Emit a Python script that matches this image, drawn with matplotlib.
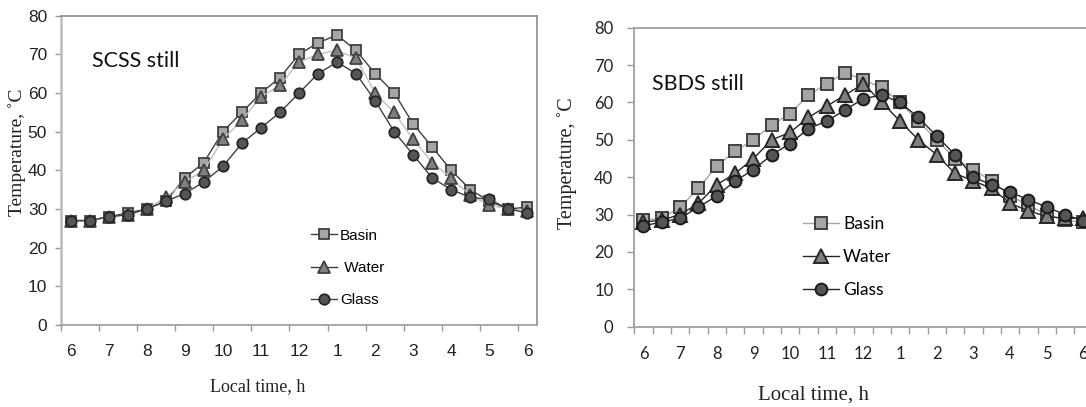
import matplotlib
matplotlib.use("Agg")
import matplotlib.pyplot as plt
from matplotlib import font_manager
from matplotlib.lines import Line2D

# ---------------- data ----------------
hour_labels = ["6", "7", "8", "9", "10", "11", "12", "1", "2", "3", "4", "5", "6"]
n_points = 25  # half-hourly readings 6:00 .. 18:00

scss_basin = [27, 27, 28, 29, 30, 32, 38, 42, 50, 55, 60, 64, 70, 73, 75, 71, 65, 60, 52, 46, 40, 35, 32, 30, 30.5]
scss_water = [27, 27, 28, 28.5, 30, 33, 37, 40, 48, 53, 59, 62, 68, 70, 71, 69, 60, 55, 48, 42, 38, 33.5, 31, 30, 29.5]
scss_glass = [27, 27, 28, 28.5, 30, 32, 34, 37, 41, 47, 51, 55, 60, 65, 68, 65, 58, 50, 44, 38, 35, 33, 32.5, 30, 29]

sbds_basin = [28.5, 29, 32, 37, 43, 47, 50, 54, 57, 62, 65, 68, 66, 64, 60, 55, 50, 45, 42, 39, 35, 32.5, 30, 28.5, 28]
sbds_water = [28, 28.5, 30, 33, 38, 41, 45, 50, 52, 56, 59, 62, 65, 60, 55, 50, 46, 41, 39, 37, 33, 31, 29.5, 29, 29]
sbds_glass = [27, 28, 29, 32, 35, 39, 42, 46, 49, 53, 55, 58, 61, 62, 60, 56, 51, 46, 40, 38, 36, 34, 32, 30, 28.3]

series_names = ["Basin", " Water", "Glass"]

# ---------------- fonts ----------------
avail = {f.name for f in font_manager.fontManager.ttflist}
narrow = "Liberation Sans Narrow" if "Liberation Sans Narrow" in avail else "Liberation Sans"
serif = ["Liberation Serif", "DejaVu Serif"]
calib = ["Lato", "DejaVu Sans"]

W, H = 1086, 407
fig = plt.figure(figsize=(W / 100, H / 100), dpi=100)


def fx(px):
    return px / W


def fy(py):
    return 1 - py / H


x = list(range(n_points))

# ---------------- left chart (SCSS) ----------------
axL = fig.add_axes([fx(61), fy(325), fx(537) - fx(61), fy(15.7) - fy(325)])
axL.plot(x, scss_basin, color="#404040", lw=1.0, marker="s", ms=7.5, mfc="#A6A6A6", mec="#404040", mew=1.3, zorder=3)
axL.plot(x, scss_water, color="#BFBFBF", lw=1.0, marker="^", ms=8.5, mfc="#808080", mec="#404040", mew=1.3, zorder=4)
axL.plot(x, scss_glass, color="#404040", lw=1.0, marker="o", ms=7.5, mfc="#555555", mec="#262626", mew=1.3, zorder=5)
axL.set_xlim(-0.5, n_points - 0.5)
axL.set_ylim(0, 80)
axL.set_yticks(range(0, 81, 10))
axL.set_xticks(range(0, n_points, 2))
axL.set_xticklabels(hour_labels)
axL.set_xticks([i - 0.5 for i in range(0, n_points, 2)], minor=True)
axL.tick_params(axis="x", which="major", length=0, pad=14)
axL.tick_params(axis="x", which="minor", length=4, width=1, color="#999999", direction="out")
axL.tick_params(axis="y", length=4, width=1, color="#999999", direction="out", pad=6)
for lab in axL.get_xticklabels() + axL.get_yticklabels():
    lab.set_family(narrow)
    lab.set_fontsize(12.5)
    lab.set_color("#222222")
for s in ["top", "right"]:
    axL.spines[s].set_color("#8C8C8C")
    axL.spines[s].set_linewidth(1.2)
axL.spines["left"].set_color("#BBBBBB")
axL.spines["left"].set_linewidth(1.8)
axL.spines["bottom"].set_color("#999999")
axL.spines["bottom"].set_linewidth(1.2)

fig.text(fx(91.7), fy(66.7), "SCSS still", family=calib, fontsize=15.5, ha="left", va="baseline", color="#111111")
fig.text(fx(17), fy(152), "Temperature, ˚C", family=serif, fontsize=14, rotation=90, ha="center", va="center", color="#222222")
fig.text(fx(258), fy(387), "Local time, h", family=serif, fontsize=13, ha="center", va="center", color="#222222")

hL = [
    Line2D([], [], color="#404040", lw=1.0, marker="s", ms=7.5, mfc="#A6A6A6", mec="#404040", mew=1.3),
    Line2D([], [], color="#404040", lw=1.0, marker="^", ms=8.5, mfc="#808080", mec="#404040", mew=1.3),
    Line2D([], [], color="#404040", lw=1.0, marker="o", ms=7.5, mfc="#555555", mec="#262626", mew=1.3),
]
legL = fig.legend(hL, series_names, loc="center left", bbox_to_anchor=(fx(311), fy(268)),
                  bbox_transform=fig.transFigure, frameon=False, borderpad=0, borderaxespad=0,
                  handlelength=1.7, handletextpad=0.2, labelspacing=1.2,
                  prop={"family": narrow, "size": 11})

# ---------------- right chart (SBDS) ----------------
axR = fig.add_axes([fx(634.3), fy(326.7), 458.25 / W, fy(27.7) - fy(326.7)])
axR.plot(x, sbds_basin, color="#A6A6A6", lw=1.0, marker="s", ms=8.5, mfc="#A6A6A6", mec="#404040", mew=1.4, zorder=3)
axR.plot(x, sbds_water, color="#262626", lw=1.0, marker="^", ms=9.5, mfc="#7F7F7F", mec="#262626", mew=1.4, zorder=4)
axR.plot(x, sbds_glass, color="#262626", lw=1.0, marker="o", ms=8.5, mfc="#555555", mec="#1A1A1A", mew=1.4, zorder=5)
axR.set_xlim(-0.5, n_points - 0.5)
axR.set_ylim(0, 80)
axR.set_yticks(range(0, 81, 10))
axR.set_xticks(range(0, n_points, 2))
axR.set_xticklabels(hour_labels)
axR.set_xticks([i - 0.5 for i in range(0, n_points + 1)], minor=True)
axR.tick_params(axis="x", which="major", length=0, pad=14)
axR.tick_params(axis="x", which="minor", length=5, width=1, color="#999999", direction="out")
axR.tick_params(axis="y", length=5, width=1, color="#999999", direction="out", pad=10)
for lab in axR.get_xticklabels() + axR.get_yticklabels():
    lab.set_family(calib)
    lab.set_fontsize(12)
    lab.set_color("#222222")
axR.spines["right"].set_visible(False)
for s in ["top", "left", "bottom"]:
    axR.spines[s].set_color("#A0A0A0")
    axR.spines[s].set_linewidth(1.3)

fig.text(fx(651.7), fy(90), "SBDS still", family=calib, fontsize=15.5, ha="left", va="baseline", color="#111111")
fig.text(fx(567), fy(163.5), "Temperature, ˚C", family=serif, fontsize=14.5, rotation=90, ha="center", va="center", color="#222222")
fig.text(fx(813), fy(395), "Local time, h", family=serif, fontsize=15, ha="center", va="center", color="#222222")

hR = [
    Line2D([], [], color="#A6A6A6", lw=1.0, marker="s", ms=8.5, mfc="#A6A6A6", mec="#404040", mew=1.4),
    Line2D([], [], color="#262626", lw=1.0, marker="^", ms=9.5, mfc="#7F7F7F", mec="#262626", mew=1.4),
    Line2D([], [], color="#262626", lw=1.0, marker="o", ms=8.5, mfc="#555555", mec="#1A1A1A", mew=1.4),
]
legR = fig.legend(hR, ["Basin", "Water", "Glass"], loc="center left", bbox_to_anchor=(fx(803), fy(257)),
                  bbox_transform=fig.transFigure, frameon=False, borderpad=0, borderaxespad=0,
                  handlelength=2.1, handletextpad=0.2, labelspacing=1.0,
                  prop={"family": calib, "size": 12.5})

fig.savefig("out.png", dpi=100)
